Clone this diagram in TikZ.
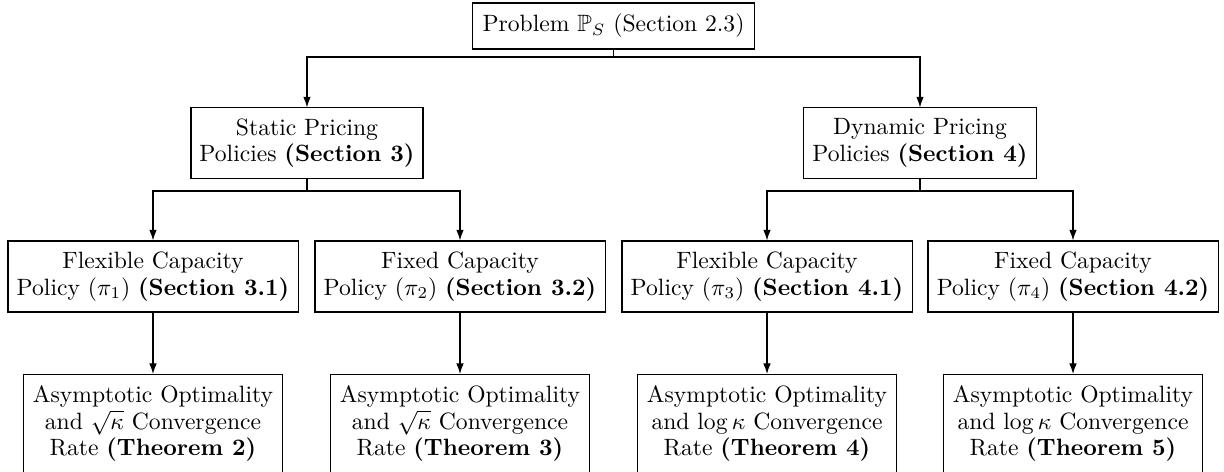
\documentclass[tikz,border=0pt]{standalone}
\usepackage{amssymb}
\usetikzlibrary{arrows.meta}
\begin{document}
\begin{tikzpicture}[x=0.4237pt,y=-0.4237pt,
  box/.style={draw,align=center,inner sep=0pt,line width=0.45pt,
    font=\fontsize{10}{11.3}\selectfont},
  lvA/.style={box,minimum width=119.1pt,minimum height=19.5pt},
  lvB/.style={box,minimum height=29.7pt},
  lvC/.style={box,minimum width=122.9pt,minimum height=30.1pt},
  lvD/.style={box,minimum width=109.5pt,minimum height=41.5pt},
  arr/.style={-{Latex[length=4.5pt,width=3.2pt]},line width=0.45pt}]
\useasboundingbox (0,0) rectangle (1224,472);
\node[lvA] (top) at (613.5,26) {Problem $\mathbb{P}_S$ (Section 2.3)};
\node[lvB,minimum width=98.3pt] (stat) at (307,143) {Static Pricing\\Policies \textbf{(Section 3)}};
\node[lvB,minimum width=99.1pt] (dyn) at (920,143) {Dynamic Pricing\\Policies \textbf{(Section 4)}};
\node[lvC] (f1) at (153,276.5) {Flexible Capacity\\Policy ($\pi_1$) \textbf{(Section 3.1)}};
\node[lvC] (x1) at (460,276.5) {Fixed Capacity\\Policy ($\pi_2$) \textbf{(Section 3.2)}};
\node[lvC] (f2) at (767,276.5) {Flexible Capacity\\Policy ($\pi_3$) \textbf{(Section 4.1)}};
\node[lvC] (x2) at (1073,276.5) {Fixed Capacity\\Policy ($\pi_4$) \textbf{(Section 4.2)}};
\node[lvD,anchor=north] (r1) at (153,374) {Asymptotic Optimality\\and $\sqrt{\kappa}$ Convergence\\Rate \textbf{(Theorem 2)}};
\node[lvD,anchor=north] (r2) at (460,374) {Asymptotic Optimality\\and $\sqrt{\kappa}$ Convergence\\Rate \textbf{(Theorem 3)}};
\node[lvD,anchor=north] (r3) at (767,374) {Asymptotic Optimality\\and $\log\kappa$ Convergence\\Rate \textbf{(Theorem 4)}};
\node[lvD,anchor=north] (r4) at (1073,374) {Asymptotic Optimality\\and $\log\kappa$ Convergence\\Rate \textbf{(Theorem 5)}};
\coordinate (h0) at (613.5,57);
\coordinate (h1) at (307,191);
\coordinate (h2) at (920,191);
\draw[arr] (top.south) -- (top.south |- h0) -| (stat.north);
\draw[arr] (top.south |- h0) -| (dyn.north);
\draw[arr] (stat.south) -- (h1) -| (f1.north);
\draw[arr] (h1) -| (x1.north);
\draw[arr] (dyn.south) -- (h2) -| (f2.north);
\draw[arr] (h2) -| (x2.north);
\draw[arr] (f1) -- (r1);
\draw[arr] (x1) -- (r2);
\draw[arr] (f2) -- (r3);
\draw[arr] (x2) -- (r4);
\end{tikzpicture}
\end{document}
